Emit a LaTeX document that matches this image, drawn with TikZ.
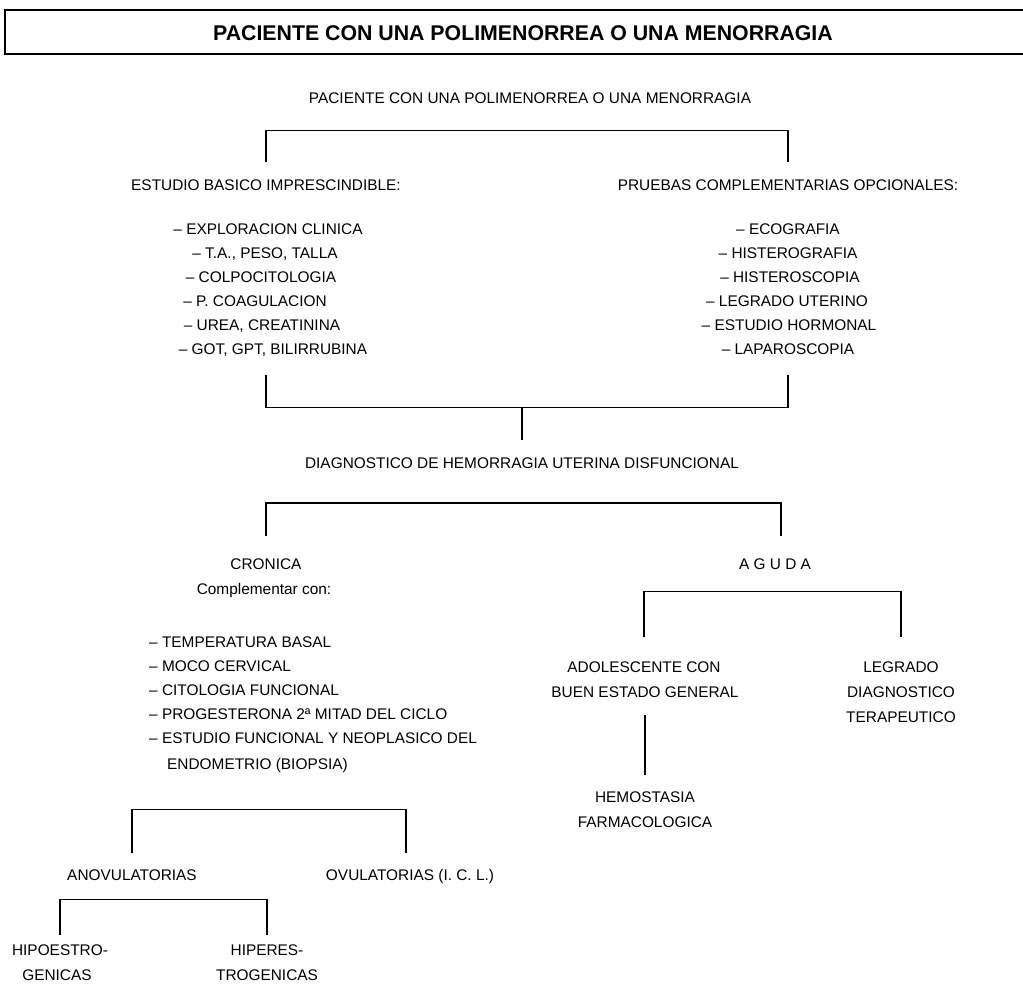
\documentclass[tikz,border=0pt]{standalone}
\usepackage{fontspec}
\setmainfont{Liberation Sans}
\usetikzlibrary{calc}
\begin{document}
\begin{tikzpicture}[x=1pt,y=-1pt,
  txt/.style={inner sep=0pt, anchor=base, font=\fontsize{15.4}{18}\selectfont},
  txtl/.style={txt, anchor=base west},
  ttl/.style={inner sep=0pt, anchor=base, font=\fontsize{21.3}{24}\bfseries\selectfont},
  ln/.style={line width=1.1pt},
  mid/.style={line width=1.9pt},
  heavy/.style={line width=2.5pt},
  boxline/.style={line width=1.3pt}]
\useasboundingbox[fill=white] (0,0) rectangle (1023,986);

% title
\draw[boxline] (5,10) rectangle (1040,54);
\node[ttl] (title) at (523,40.5) {PACIENTE CON UNA POLIMENORREA O UNA MENORRAGIA};

% level 1
\node[txt] (root) at (530,103) {PACIENTE CON UNA POLIMENORREA O UNA MENORRAGIA};
\node[txt] (est) at (266,190) {ESTUDIO BASICO IMPRESCINDIBLE:};
\node[txt] (pru) at (788,190) {PRUEBAS COMPLEMENTARIAS OPCIONALES:};

\node[txt] (e1) at (268,234) {– EXPLORACION CLINICA};
\node[txt] (e2) at (265,258) {– T.A., PESO, TALLA};
\node[txt] (e3) at (261,282) {– COLPOCITOLOGIA};
\node[txt] (e4) at (255,306) {– P. COAGULACION};
\node[txt] (e5) at (262,330) {– UREA, CREATININA};
\node[txt] (e6) at (273,354) {– GOT, GPT, BILIRRUBINA};

\node[txt] (p1) at (788,234) {– ECOGRAFIA};
\node[txt] (p2) at (788,258) {– HISTEROGRAFIA};
\node[txt] (p3) at (790,282) {– HISTEROSCOPIA};
\node[txt] (p4) at (787,306) {– LEGRADO UTERINO};
\node[txt] (p5) at (789,330) {– ESTUDIO HORMONAL};
\node[txt] (p6) at (788,354) {– LAPAROSCOPIA};

\node[txt] (diag) at (522,468) {DIAGNOSTICO DE HEMORRAGIA UTERINA DISFUNCIONAL};

% cronica
\node[txt] (cron) at (266,569) {CRONICA};
\node[txt] (comp) at (264,594) {Complementar con:};
\node[txtl] (c1) at (149,647) {– TEMPERATURA BASAL};
\node[txtl] (c2) at (149,671) {– MOCO CERVICAL};
\node[txtl] (c3) at (149,695) {– CITOLOGIA FUNCIONAL};
\node[txtl] (c4) at (149,719) {– PROGESTERONA 2ª MITAD DEL CICLO};
\node[txtl] (c5) at (149,743) {– ESTUDIO FUNCIONAL Y NEOPLASICO DEL};
\node[txtl] (c6) at (167,769) {ENDOMETRIO (BIOPSIA)};

\node[txt] (anov) at (132,880) {ANOVULATORIAS};
\node[txt] (ovul) at (410,880) {OVULATORIAS (I. C. L.)};
\node[txt] (hipo1) at (60,955) {HIPOESTRO-};
\node[txt] (hipo2) at (57,980) {GENICAS};
\node[txt] (hiper1) at (267,955) {HIPERES-};
\node[txt] (hiper2) at (267,980) {TROGENICAS};

% aguda
\node[txt] (agu) at (775,569) {A G U D A};
\node[txt] (adol1) at (644,672) {ADOLESCENTE CON};
\node[txt] (adol2) at (645,697) {BUEN ESTADO GENERAL};
\node[txt] (leg1) at (901,672) {LEGRADO};
\node[txt] (leg2) at (901,697) {DIAGNOSTICO};
\node[txt] (leg3) at (901,722) {TERAPEUTICO};
\node[txt] (hemo1) at (645,802) {HEMOSTASIA};
\node[txt] (hemo2) at (645,827) {FARMACOLOGICA};

% connectors
\draw[ln] ([yshift=17pt]est.north) -- ([yshift=49pt]est.north) -- ([yshift=49pt]pru.north);
\draw[mid] ([yshift=49pt]pru.north) -- ([yshift=17pt]pru.north);

\coordinate (m2) at ($(diag.north)+(0,-50)$);
\draw[ln] ($(est |- e6.base)+(0,21)$) |- (m2);
\draw[ln] (m2) -| ($(pru |- p6.base)+(0,21)$);
\draw[mid] ($(pru |- p6.base)+(0,21)$) -- ($(pru |- m2)+(0,0.4)$);
\draw[ln] (m2) -- ($(diag.north)+(0,-17)$);

\draw[heavy] ([yshift=22pt]cron.north) -- ([yshift=55pt]cron.north) -| ([xshift=6pt,yshift=22pt]agu.north);

\draw[ln] ([yshift=24pt]adol1.north) -- ([yshift=70pt]adol1.north) -| ([yshift=24pt]leg1.north);
\draw[ln] ([yshift=-18pt]adol2.south) -- ([yshift=16pt]hemo1.north);

\draw[ln] ([yshift=16pt]anov.north) -- ([yshift=60pt]anov.north) -| ([xshift=-4pt,yshift=16pt]ovul.north);
\draw[ln] ([yshift=9pt]hipo1.north) -- ([yshift=45pt]hipo1.north) -| ([yshift=9pt]hiper1.north);
\end{tikzpicture}
\end{document}
